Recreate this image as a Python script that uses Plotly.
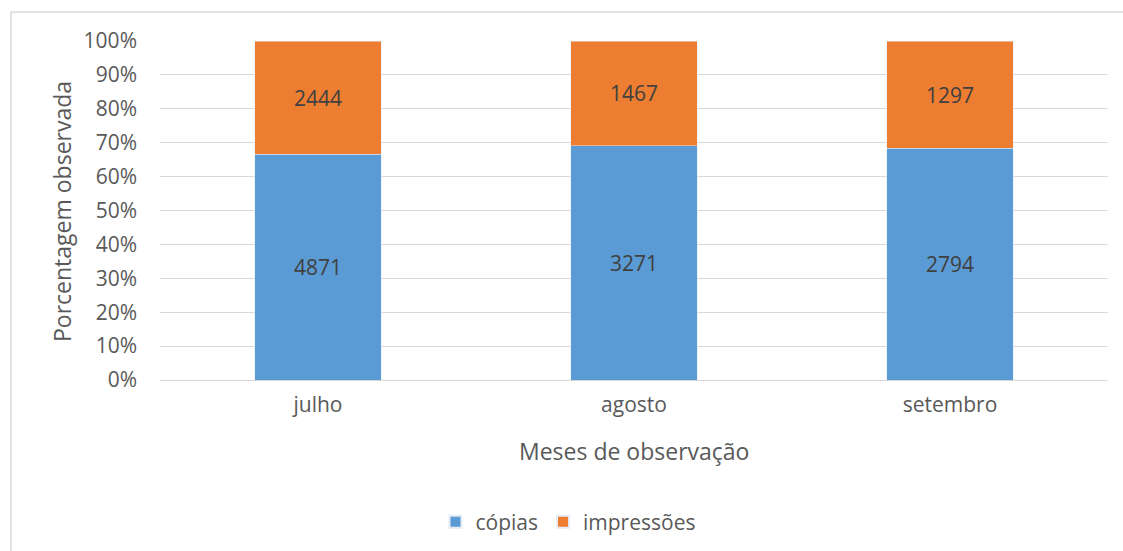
import plotly.graph_objects as go

meses = ["julho", "agosto", "setembro"]
copias = [4871, 3271, 2794]
impressoes = [2444, 1467, 1297]
y_ticks = [0, 10, 20, 30, 40, 50, 60, 70, 80, 90, 100]
y_tick_labels = ["0%", "10%", "20%", "30%", "40%", "50%", "60%", "70%", "80%", "90%", "100%"]

W, H = 1123, 551
L, R, T, B = 160, 15, 41, 171
pw, ph = W - L - R, H - T - B

def px_x(x):
    return (x - L) / pw

def px_y(y):
    return (H - B - y) / ph

font_family = "Open Sans, Liberation Sans, sans-serif"
TXT = "#595959"

fig = go.Figure()
fig.add_trace(go.Bar(
    x=meses, y=copias, name="cópias", marker_color="#5B9BD5",
    text=copias, textposition="inside", insidetextanchor="middle",
    textfont=dict(size=21, color="#404040", family=font_family),
    width=0.4,
))
fig.add_trace(go.Bar(
    x=meses, y=impressoes, name="impressões", marker_color="#ED7D31",
    text=impressoes, textposition="inside", insidetextanchor="middle",
    textfont=dict(size=21, color="#404040", family=font_family),
    width=0.4,
))

fig.update_layout(
    width=W, height=H,
    barmode="stack", barnorm="percent",
    margin=dict(l=L, r=R, t=T, b=B, autoexpand=False),
    paper_bgcolor="white", plot_bgcolor="white",
    font=dict(family=font_family, color=TXT, size=21),
    uniformtext=dict(minsize=8, mode="show"),
    showlegend=True,
    legend=dict(orientation="h", x=px_x(568), xanchor="center", y=px_y(522), yanchor="middle",
                font=dict(size=21, color=TXT), itemsizing="constant",
                traceorder="normal"),
    xaxis=dict(range=[-0.5, 2.5], showgrid=False, showline=False, ticks="",
               automargin=False, tickfont=dict(size=21, color=TXT)),
    yaxis=dict(range=[0, 100], tickmode="array", tickvals=y_ticks, ticktext=y_tick_labels,
               showgrid=True, gridcolor="#d9d9d9", gridwidth=1,
               zeroline=True, zerolinecolor="#d9d9d9", zerolinewidth=1,
               showline=False, ticks="", automargin=False,
               tickfont=dict(size=21, color=TXT)),
    annotations=[
        dict(text="Meses de observação", xref="paper", yref="paper",
             x=px_x(634), y=px_y(451), xanchor="center", yanchor="middle",
             showarrow=False, font=dict(size=23, color=TXT)),
        dict(text="Porcentagem observada", xref="paper", yref="paper",
             x=px_x(62), y=px_y(212), xanchor="center", yanchor="middle",
             textangle=-90, showarrow=False, font=dict(size=23, color=TXT)),
    ],
    shapes=[
        dict(type="line", xref="paper", yref="paper",
             x0=px_x(11), x1=px_x(11), y0=px_y(12), y1=px_y(551),
             line=dict(color="#d9d9d9", width=1.5)),
        dict(type="line", xref="paper", yref="paper",
             x0=px_x(11), x1=px_x(1123), y0=px_y(12), y1=px_y(12),
             line=dict(color="#d9d9d9", width=1.5)),
    ],
)
fig.update_yaxes(ticklabelstandoff=22)
fig.update_xaxes(ticklabelstandoff=10)

fig.write_html("out.html", config={"displayModeBar": False},
               post_script="document.body.style.margin='0';document.body.style.overflow='hidden';")
